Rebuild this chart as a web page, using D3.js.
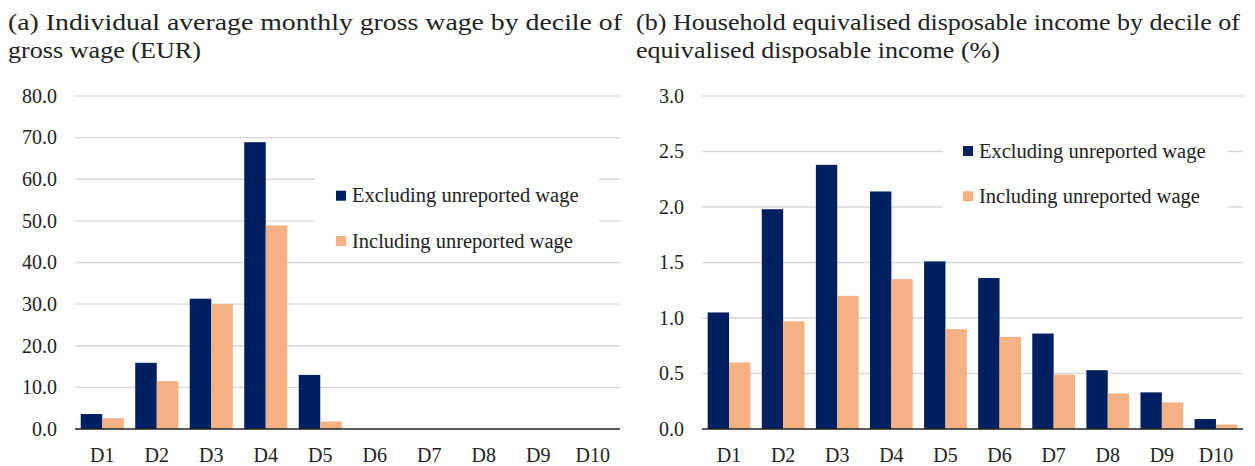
<!DOCTYPE html>
<html>
<head>
<meta charset="utf-8">
<script src="https://cdn.jsdelivr.net/npm/d3@7"></script>
<style>
  body { margin: 0; background: #fff; }
  text { font-family: "Liberation Serif", "Times New Roman", serif; fill: #222; }
</style>
</head>
<body>
<div id="chart"></div>
<script>
var deciles = ["D1", "D2", "D3", "D4", "D5", "D6", "D7", "D8", "D9", "D10"];
var seriesNames = ["Excluding unreported wage", "Including unreported wage"];
var seriesColors = ["#00205f", "#f4b183"];

// (a) wage, EUR
var wageExcl = [3.6, 15.9, 31.3, 68.9, 13.0, 0, 0, 0, 0, 0];
var wageIncl = [2.6, 11.5, 30.0, 48.9, 1.8, 0, 0, 0, 0, 0];
var wageTicks = [0, 10, 20, 30, 40, 50, 60, 70, 80];

// (b) income, %
var incomeExcl = [1.05, 1.98, 2.38, 2.14, 1.51, 1.36, 0.86, 0.53, 0.33, 0.09];
var incomeIncl = [0.60, 0.97, 1.20, 1.35, 0.90, 0.83, 0.49, 0.32, 0.24, 0.04];
var incomeTicks = [0, 0.5, 1.0, 1.5, 2.0, 2.5, 3.0];

var svg = d3.select("#chart").append("svg")
  .attr("width", 1255).attr("height", 466);

function drawPanel(opts) {
  var g = svg.append("g");

  // title, two lines
  opts.title.forEach(function(line, i) {
    g.append("text")
      .attr("x", opts.titleX)
      .attr("y", 30 + i * 28)
      .attr("textLength", opts.titleLen[i])
      .attr("lengthAdjust", "spacingAndGlyphs")
      .style("font-size", "23px")
      .text(line);
  });

  var x = d3.scaleBand()
    .domain(deciles)
    .range([opts.left, opts.right])
    .paddingInner(0.21)
    .paddingOuter(0.105);

  var xs = d3.scaleBand()
    .domain([0, 1])
    .range([0, x.bandwidth()]);

  var y = d3.scaleLinear()
    .domain([0, opts.ticks[opts.ticks.length - 1]])
    .range([429, 96]);

  // gridlines
  g.append("g")
    .selectAll("line")
    .data(opts.ticks.slice(1))
    .enter().append("line")
      .attr("x1", opts.left)
      .attr("x2", opts.right)
      .attr("y1", function(d) { return y(d); })
      .attr("y2", function(d) { return y(d); })
      .attr("stroke", "#d9d9d9")
      .attr("stroke-width", 1.3);

  // y tick labels
  g.append("g")
    .selectAll("text")
    .data(opts.ticks)
    .enter().append("text")
      .attr("x", opts.left - 18)
      .attr("y", function(d) { return y(d); })
      .attr("dy", "0.34em")
      .attr("text-anchor", "end")
      .style("font-size", "20px")
      .text(function(d) { return d3.format(".1f")(d); });

  // bars
  var series = [opts.excl, opts.incl];
  g.append("g")
    .selectAll("g")
    .data(series)
    .enter().append("g")
      .attr("fill", function(d, i) { return seriesColors[i]; })
      .each(function(vals, si) {
        d3.select(this).selectAll("rect")
          .data(vals.filter(function(v) { return v > 0; }).map(function(v) { return {v: v, k: deciles[vals.indexOf(v)]}; }))
          .enter().append("rect")
            .attr("x", function(d) { return x(d.k) + xs(si); })
            .attr("width", xs.bandwidth())
            .attr("y", function(d) { return y(d.v); })
            .attr("height", function(d) { return y(0) - y(d.v); });
      });

  // x axis
  var xAxis = g.append("g")
    .attr("transform", "translate(0," + y(0) + ")")
    .call(d3.axisBottom(x).tickSize(0).tickPadding(19));
  xAxis.select(".domain").attr("stroke", "#222").attr("stroke-width", 1.3)
    .attr("d", "M" + opts.left + ",0H" + opts.right);
  xAxis.selectAll("text")
    .style("font-size", "20px")
    .style("font-family", "Liberation Serif, serif")
    .attr("fill", "#222");

  // legend
  var lg = g.append("g");
  lg.append("rect")
    .attr("x", opts.legend.x0).attr("y", opts.legend.y0)
    .attr("width", opts.legend.w).attr("height", 88)
    .attr("fill", "#fff");
  seriesNames.forEach(function(name, i) {
    var cy = opts.legend.cy + i * 45.3;
    lg.append("rect")
      .attr("x", opts.legend.sx).attr("y", cy - 5)
      .attr("width", 10).attr("height", 10)
      .attr("fill", seriesColors[i]);
    lg.append("text")
      .attr("x", opts.legend.sx + 16).attr("y", cy)
      .attr("dy", "0.33em")
      .style("font-size", "20.5px")
      .text(name);
  });
}

drawPanel({
  title: ["(a) Individual average monthly gross wage by decile of", "gross wage (EUR)"],
  titleX: 8, titleLen: [614, 193],
  left: 75, right: 620,
  ticks: wageTicks,
  excl: wageExcl, incl: wageIncl,
  legend: {x0: 315, y0: 170, w: 284, sx: 336, cy: 195.7}
});

drawPanel({
  title: ["(b) Household equivalised disposable income by decile of", "equivalised disposable income (%)"],
  titleX: 636, titleLen: [604, 364],
  left: 702, right: 1243,
  ticks: incomeTicks,
  excl: incomeExcl, incl: incomeIncl,
  legend: {x0: 943, y0: 125, w: 284, sx: 963, cy: 151}
});
</script>
</body>
</html>
